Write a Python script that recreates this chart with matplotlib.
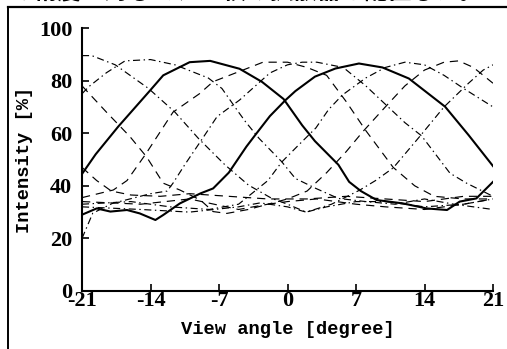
import matplotlib
matplotlib.use('Agg')
import matplotlib.pyplot as plt
from matplotlib.lines import Line2D

# ---- data ----
xticks = [-21, -14, -7, 0, 7, 14, 21]
yticks = [0, 20, 40, 60, 80, 100]

s1_x = [-21, -19.6, -17.3, -14.1, -12.7, -10, -7.9, -4.9, -2.6, -0.4, 1.5, 2.8, 4.0, 5.2, 6.3, 7.5, 9.1, 11.8, 14.2, 16.3, 17.6, 19.3, 21]
s1_y = [44.5, 52, 62.5, 76, 82, 87, 87.5, 84.5, 79.5, 73, 63, 57, 52.5, 48, 41.5, 38, 34.6, 33.3, 31.4, 30.8, 34, 35.2, 41.5]

s2_x = [-21, -19.5, -18.1, -16.4, -15.1, -13.5, -12.7, -11, -8.9, -7.6, -6, -4.2, -3.3, -1.8, -0.2, 0.8, 2.8, 4.9, 7.3, 9.7, 12.4, 16.1, 18.5, 21]
s2_y = [29, 31.4, 30.2, 30.8, 29.5, 27, 28.9, 33.3, 37.1, 39, 45, 54.9, 59.3, 66.5, 72.6, 76, 81.5, 84.6, 86.5, 85, 80.8, 70.1, 59.3, 47.5]

c0_x = [-21, -19.5, -18, -16, -13, -10, -6, -2, 2, 6, 10, 14, 18, 21]
c0_y = [47, 42, 38, 36.5, 36, 37, 36, 35, 35, 36, 35, 34, 36, 36]

c1_x = [-21, -20, -17.6, -14.2, -11.5, -9.1, -6.4, -4, -1.6, 0, 1.9, 4, 7, 10, 14, 18, 21]
c1_y = [89.5, 89.5, 86, 77, 68, 58, 48, 40.3, 35.2, 33, 30, 32, 34, 34, 32, 33, 35]

c2_x = [-21, -18.5, -16.1, -14.4, -12.7, -11, -8.9, -7.6, -6.2, -4, -2, 0, 3, 7, 10, 14, 18, 21]
c2_y = [78, 68, 58.7, 51, 41, 38.4, 34.6, 30.2, 29.5, 31, 33, 34, 35, 33, 32, 31, 33, 35]

c7_x = [-21, -20.3, -18.5, -16.6, -14, -11.5, -8.1, -6.7, -5, -4.3, -2.9, -0.6, 0.8, 2.9, 5.2, 8, 11, 14, 17, 21]
c7_y = [75, 77.7, 83, 87.5, 88, 86, 81, 77, 68, 64.4, 58, 49.2, 42.8, 39, 35.2, 34, 33, 35, 33, 31]

c5_x = [-21, -17.8, -16.4, -14.5, -11.7, -9, -7.6, -4.9, -2.5, 0, 2, 4, 6, 8, 10.8, 13, 15, 18, 21]
c5_y = [35.5, 38.4, 42, 52, 68, 75, 79.6, 83.5, 87, 87, 85, 82, 72, 61, 47, 40, 36, 35, 35]

c6_x = [-21, -19.9, -17.9, -14, -12.3, -11.7, -10.5, -8.9, -7.2, -4.9, -1.8, 0, 1.5, 3, 5.7, 8, 10, 12, 13.7, 16.6, 18.3, 21]
c6_y = [20, 29.6, 33.3, 37, 38, 41, 48, 56.8, 66.3, 72.6, 82.9, 86, 87, 87, 85, 78, 71, 64, 59, 44.8, 41, 36]

c8_x = [-21, -16, -12, -8, -5, -4, -2, -0.6, 1, 2.9, 4.2, 5.6, 8, 10, 12, 14, 16, 18, 21]
c8_y = [33, 34, 32, 31, 33, 36, 42, 49, 55, 62, 69, 74.5, 81, 85, 87, 86, 82, 77, 70]

c10_x = [-21, -15, -10, -5, -2, 0, 2, 4, 6, 7.7, 10, 12, 14, 16, 17.5, 19, 21]
c10_y = [34, 33, 35, 31, 33, 35, 38, 45, 53, 60.6, 70, 78, 84, 87, 87.5, 85, 79]

c9_x = [-21, -15, -10, -5, -2.8, 0, 1.9, 4.5, 7.4, 9, 10.8, 13.5, 16, 18.5, 20, 21]
c9_y = [32, 31, 30, 32, 33.5, 32, 30, 33, 38.4, 42, 46.8, 58.7, 70, 79, 84, 86]

# ---- figure ----
fig = plt.figure(figsize=(5.07, 3.49), dpi=100)
fig.patch.set_facecolor('white')

# page frame and cut-off caption text
fig.add_artist(Line2D([8/507, 8/507], [0, 1 - 7/349], color='black', lw=1.4))
fig.add_artist(Line2D([8/507, 1], [1 - 7/349, 1 - 7/349], color='black', lw=1.6))
fig.text(0.02, 1 - 3/349, 'の精度に対して、６枚の拡散器を配置した。', fontsize=17,
         family=['Noto Sans CJK JP', 'DejaVu Sans'], fontweight='bold',
         va='bottom', ha='left')

ax = fig.add_axes([82/507, 58/349, 411/507, 263/349])

thin = 0.85
dash = (7, 5)
dashdot = (6, 3, 1.2, 3)

ax.plot(s1_x, s1_y, color='black', lw=1.5, solid_joinstyle='round')
ax.plot(s2_x, s2_y, color='black', lw=1.5, solid_joinstyle='round')
for xs, ys, d in [(c0_x, c0_y, dash), (c2_x, c2_y, dash), (c5_x, c5_y, dash),
                  (c10_x, c10_y, dash), (c1_x, c1_y, dashdot), (c7_x, c7_y, dashdot),
                  (c6_x, c6_y, dashdot), (c8_x, c8_y, dashdot), (c9_x, c9_y, dashdot)]:
    ln, = ax.plot(xs, ys, color='black', lw=thin)
    ln.set_dashes(d)

ax.set_xlim(-21, 21)
ax.set_ylim(0, 100)
ax.spines['top'].set_visible(False)
ax.spines['right'].set_visible(False)
ax.spines['left'].set_linewidth(1.5)
ax.spines['bottom'].set_linewidth(1.5)
ax.set_xticks(xticks)
ax.set_yticks(yticks)
ax.set_xticklabels([str(v) for v in xticks])
ax.set_yticklabels([str(v) for v in yticks])
ax.tick_params(direction='in', length=5, width=1.2)
for lab in ax.get_xticklabels() + ax.get_yticklabels():
    lab.set_fontfamily('Liberation Serif')
    lab.set_fontweight('bold')
    lab.set_fontsize(16)
ax.tick_params(axis='y', pad=7)
ax.tick_params(axis='x', pad=0)

ax.set_xlabel('View angle [degree]', fontsize=13.5, fontweight='bold',
              family='Liberation Mono', labelpad=7)
ax.set_ylabel('Intensity [%]', fontsize=13.5, fontweight='bold',
              family='Liberation Mono', labelpad=4)

fig.savefig('out.png', dpi=100, facecolor='white')
